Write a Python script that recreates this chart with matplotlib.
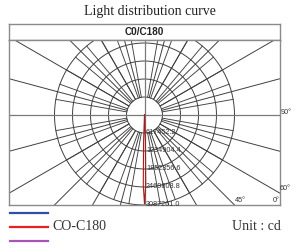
import numpy as np
import matplotlib
matplotlib.use("Agg")
import matplotlib.pyplot as plt

# ring values (cd) and the C0/C180 curve
ring_values = [617452.2, 1234904.4, 1852356.6, 2469808.8, 3087261.0]
curve_angles = [-5, -3, -2, -1, 0, 1, 2, 3, 5]  # deg from nadir
curve_cd = [0, 50000, 900000, 2400000, 3050000, 2400000, 900000, 50000, 0]
angle_labels = ["90°", "60°", "45°", "0°"]
legend_names = ["", "CO-C180", ""]
legend_colors = ["#2f4fa8", "#e02424", "#a457b8"]

W, H = 300, 250
fig = plt.figure(figsize=(W / 100, H / 100), dpi=100)

# frame in pixels
left, right, top, head, bottom = 9, 280, 24, 40, 205
cx, cy = 144.5, 115
ring_px = 18  # pixel step per ring

grid_c = "#404040"
frame_c = "#8a8a8a"

fig.text(150 / W, 1 - 12 / H, "Light distribution curve", ha="center", va="center",
         family="Liberation Serif", fontsize=10, color="#222222")

hax = fig.add_axes([left / W, 1 - head / H, (right - left) / W, (head - top) / H])
hax.set_xticks([]); hax.set_yticks([])
for s in hax.spines.values():
    s.set_color(frame_c); s.set_linewidth(1.0)
hax.text(0.5, 0.5, "C0/C180", ha="center", va="center", transform=hax.transAxes,
         family="Liberation Sans", fontweight="bold", fontsize=7.2, color="#222222")

ax = fig.add_axes([left / W, 1 - bottom / H, (right - left) / W, (bottom - head) / H])
ax.set_xlim(left - cx, right - cx)
ax.set_ylim(cy - bottom, cy - head)
ax.set_xticks([]); ax.set_yticks([])
for s in ax.spines.values():
    s.set_color(frame_c); s.set_linewidth(1.0)

scale = ring_px / ring_values[0]
r_in = ring_values[0] * scale
r_out = ring_values[-1] * scale
far = 400

# rings
t = np.linspace(0, 2 * np.pi, 400)
for v in ring_values:
    r = v * scale
    ax.plot(r * np.cos(t), r * np.sin(t), color=grid_c, lw=0.7)

# short spokes every 10 deg inside the rings
for a in np.arange(0, 360, 10):
    th = np.radians(a)
    ax.plot([r_in * np.sin(th), r_out * np.sin(th)],
            [-r_in * np.cos(th), -r_out * np.cos(th)], color=grid_c, lw=0.65)

# long lines every 15 deg out to the frame
for a in np.arange(0, 360, 15):
    if a % 90 == 0:
        continue
    th = np.radians(a)
    ax.plot([r_in * np.sin(th), far * np.sin(th)],
            [-r_in * np.cos(th), -far * np.cos(th)], color=grid_c, lw=0.7)

# main axes through the centre
ax.plot([-far, far], [0, 0], color="#7a7a7a", lw=0.9)
ax.plot([0, 0], [-far, far], color="#7a7a7a", lw=0.9)

# curve
th = np.radians(curve_angles)
rr = np.array(curve_cd) * scale
ax.plot(rr * np.sin(th), -rr * np.cos(th), color="#a51d1d", lw=0.8)

# ring value labels
for v in ring_values:
    ax.text(1.5, -v * scale, f"{v:.1f}", ha="left", va="center",
            family="Liberation Sans", fontsize=5.2, color="#333333", clip_on=False)

# angle labels
lab_pos = [(281, 112), (280, 188), (235, 201), (273, 201)]
for txt, (px, py) in zip(angle_labels, lab_pos):
    fig.text(px / W, 1 - py / H, txt, ha="left", va="center",
             family="Liberation Sans", fontsize=5.2, color="#333333")

# legend
for i, (name, col) in enumerate(zip(legend_names, legend_colors)):
    y = 1 - (213 + i * 14) / H
    fig.add_artist(plt.Line2D([10 / W, 48 / W], [y, y], color=col, lw=1.6))
    if name:
        fig.text(52 / W, y, name, ha="left", va="center",
                 family="Liberation Serif", fontsize=10, color="#333333")

fig.text(256 / W, 1 - 226 / H, "Unit : cd", ha="center", va="center",
         family="Liberation Serif", fontsize=10, color="#333333")

fig.savefig("out.png", dpi=100)
